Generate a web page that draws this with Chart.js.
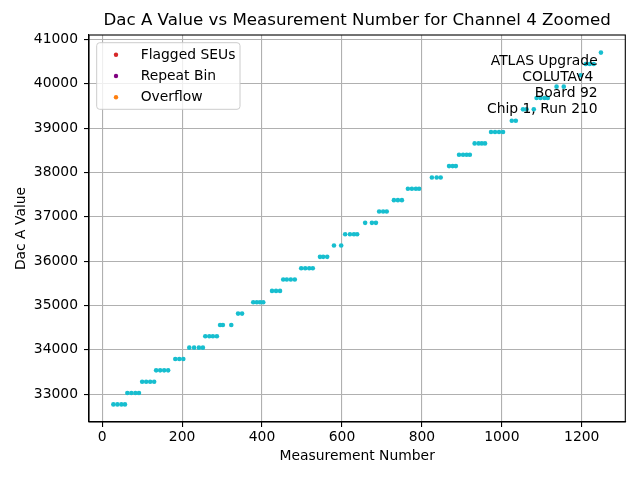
<!DOCTYPE html>
<html>
<head>
<meta charset="utf-8">
<script src="https://cdn.jsdelivr.net/npm/chart.js@4.4.1/dist/chart.umd.min.js"></script>
<style>
  html, body { margin: 0; padding: 0; background: #ffffff; }
  #wrap { width: 640px; height: 480px; }
</style>
</head>
<body>
<div id="wrap"><canvas id="c" width="640" height="480"></canvas></div>
<script>
// ---- data ----
const measurementNumbers = [
  28, 38, 48, 57,
  63, 73, 83, 92,
  100, 110, 120, 130,
  135, 145, 155, 165,
  183, 193, 203,
  218, 230, 242, 252,
  258, 268, 277, 287,
  295, 302, 323,
  340, 350,
  378, 387, 395, 403,
  425, 435, 445,
  453, 462, 472, 482,
  498, 508, 518, 527,
  545, 553, 563,
  580, 598,
  608, 620, 630, 638,
  658, 675, 685,
  693, 703, 712,
  730, 740, 750,
  765, 775, 785, 793,
  825, 837, 847,
  868, 877, 885,
  893, 903, 912, 920,
  932, 942, 950, 958,
  973, 983, 993, 1003,
  1025, 1035,
  1053, 1062, 1080,
  1087, 1097, 1107, 1115,
  1137, 1155,
  1197,
  1210, 1220, 1230,
  1248
];
const dacAValues = [
  32768, 32768, 32768, 32768,
  33024, 33024, 33024, 33024,
  33280, 33280, 33280, 33280,
  33536, 33536, 33536, 33536,
  33792, 33792, 33792,
  34048, 34048, 34048, 34048,
  34304, 34304, 34304, 34304,
  34560, 34560, 34560,
  34816, 34816,
  35072, 35072, 35072, 35072,
  35328, 35328, 35328,
  35584, 35584, 35584, 35584,
  35840, 35840, 35840, 35840,
  36096, 36096, 36096,
  36352, 36352,
  36608, 36608, 36608, 36608,
  36864, 36864, 36864,
  37120, 37120, 37120,
  37376, 37376, 37376,
  37632, 37632, 37632, 37632,
  37888, 37888, 37888,
  38144, 38144, 38144,
  38400, 38400, 38400, 38400,
  38656, 38656, 38656, 38656,
  38912, 38912, 38912, 38912,
  39168, 39168,
  39424, 39424, 39424,
  39680, 39680, 39680, 39680,
  39936, 39936,
  40192,
  40448, 40448, 40448,
  40704
];
const flaggedSEUs = [];
const repeatBin = [];
const overflow = [];
const xTickValues = [0, 200, 400, 600, 800, 1000, 1200];
const yTickValues = [33000, 34000, 35000, 36000, 37000, 38000, 39000, 40000, 41000];
const chartTitle = 'Dac A Value vs Measurement Number for Channel 4 Zoomed';
const xLabel = 'Measurement Number';
const yLabel = 'Dac A Value';
const legendLabels = ['Flagged SEUs', 'Repeat Bin', 'Overflow'];
const annotationLines = ['ATLAS Upgrade', 'COLUTAv4 ', 'Board 92', 'Chip 1, Run 210'];

// ---- build ----
const FONT = 'DejaVu Sans';
const points = measurementNumbers.map((x, i) => ({ x: x, y: dacAValues[i] }));

function paddedRange(vals) {
  const lo = Math.min(...vals), hi = Math.max(...vals);
  const m = (hi - lo) * 0.05;
  return [lo - m, hi + m];
}
const [xMin, xMax] = paddedRange(measurementNumbers);
const [yMin, yMax] = paddedRange(dacAValues);

const frameAndExtras = {
  id: 'frameAndExtras',
  afterDraw(chart) {
    const ctx = chart.ctx;
    const a = chart.chartArea;
    ctx.save();
    // axes frame (top/right spines)
    ctx.strokeStyle = '#000000';
    ctx.lineWidth = 1.1;
    ctx.strokeRect(a.left, a.top, a.right - a.left, a.bottom - a.top);

    // legend box (upper left, inside axes)
    const lx = a.left + 7.7, ly = a.top + 7.7, lw = 143.3, lh = 66.6, r = 3;
    ctx.beginPath();
    ctx.moveTo(lx + r, ly);
    ctx.lineTo(lx + lw - r, ly);
    ctx.quadraticCurveTo(lx + lw, ly, lx + lw, ly + r);
    ctx.lineTo(lx + lw, ly + lh - r);
    ctx.quadraticCurveTo(lx + lw, ly + lh, lx + lw - r, ly + lh);
    ctx.lineTo(lx + r, ly + lh);
    ctx.quadraticCurveTo(lx, ly + lh, lx, ly + lh - r);
    ctx.lineTo(lx, ly + r);
    ctx.quadraticCurveTo(lx, ly, lx + r, ly);
    ctx.closePath();
    ctx.fillStyle = 'rgba(255,255,255,0.8)';
    ctx.fill();
    ctx.strokeStyle = '#cccccc';
    ctx.lineWidth = 1;
    ctx.stroke();

    const legendSets = chart.data.datasets.filter(d => legendLabels.includes(d.label));
    ctx.font = '13.89px "' + FONT + '"';
    ctx.textAlign = 'left';
    ctx.textBaseline = 'middle';
    legendSets.forEach((d, i) => {
      const cy = ly + 12 + i * 21.3;
      ctx.beginPath();
      ctx.arc(lx + 19.3, cy, 2.2, 0, Math.PI * 2);
      ctx.fillStyle = d.backgroundColor;
      ctx.fill();
      ctx.fillStyle = '#000000';
      ctx.fillText(d.label, lx + 44, cy + 0.5);
    });

    // annotation text, right aligned near the top right of the axes
    ctx.textAlign = 'right';
    ctx.textBaseline = 'middle';
    ctx.fillStyle = '#000000';
    const tx = a.left + (a.right - a.left) * 0.9485;
    annotationLines.forEach((t, i) => {
      ctx.fillText(t, tx, a.top + 26.8 + i * 16);
    });
    ctx.restore();
  }
};

const tickFont = { family: FONT, size: 13.89 };

new Chart(document.getElementById('c'), {
  type: 'scatter',
  data: {
    datasets: [
      { label: legendLabels[0], data: flaggedSEUs, backgroundColor: '#d62728', borderColor: '#d62728', pointRadius: 2.2, borderWidth: 0 },
      { label: legendLabels[1], data: repeatBin, backgroundColor: '#800080', borderColor: '#800080', pointRadius: 2.2, borderWidth: 0 },
      { label: legendLabels[2], data: overflow, backgroundColor: '#ff7f0e', borderColor: '#ff7f0e', pointRadius: 2.2, borderWidth: 0 },
      { label: 'Dac A Value', data: points, backgroundColor: '#17becf', borderColor: '#17becf', pointRadius: 2.3, borderWidth: 0, pointHoverRadius: 2.3 }
    ]
  },
  options: {
    responsive: false,
    animation: false,
    devicePixelRatio: 1,
    layout: { padding: { left: 0, top: 0, right: 14.7, bottom: 0 } },
    plugins: {
      legend: { display: false },
      tooltip: { enabled: false },
      title: {
        display: true,
        text: chartTitle,
        fullSize: false,
        color: '#000000',
        font: { family: FONT, size: 16.67, weight: 'normal' },
        padding: { top: 11, bottom: 4 }
      }
    },
    scales: {
      x: {
        type: 'linear',
        position: 'bottom',
        min: xMin,
        max: xMax,
        afterBuildTicks: s => { s.ticks = xTickValues.map(v => ({ value: v })); },
        afterFit: s => { s.height = 58; },
        ticks: { callback: v => String(v), font: tickFont, color: '#000000', padding: 2, maxRotation: 0, autoSkip: false },
        grid: { color: '#b0b0b0', lineWidth: 1.1, tickColor: '#000000', tickLength: 5, tickWidth: 1.1 },
        border: { color: '#000000', width: 1.1 },
        title: { display: true, text: xLabel, color: '#000000', font: tickFont, padding: { top: 2, bottom: 15 } }
      },
      y: {
        type: 'linear',
        position: 'left',
        min: yMin,
        max: yMax,
        afterBuildTicks: s => { s.ticks = yTickValues.map(v => ({ value: v })); },
        afterFit: s => { s.width = 89; },
        ticks: { callback: v => String(v), font: tickFont, color: '#000000', padding: 6, autoSkip: false },
        grid: { color: '#b0b0b0', lineWidth: 1.1, tickColor: '#000000', tickLength: 5, tickWidth: 1.1 },
        border: { color: '#000000', width: 1.1 },
        title: { display: true, text: yLabel, color: '#000000', font: tickFont, padding: { top: 12.7, bottom: 2 } }
      }
    }
  },
  plugins: [frameAndExtras]
});
</script>
</body>
</html>
